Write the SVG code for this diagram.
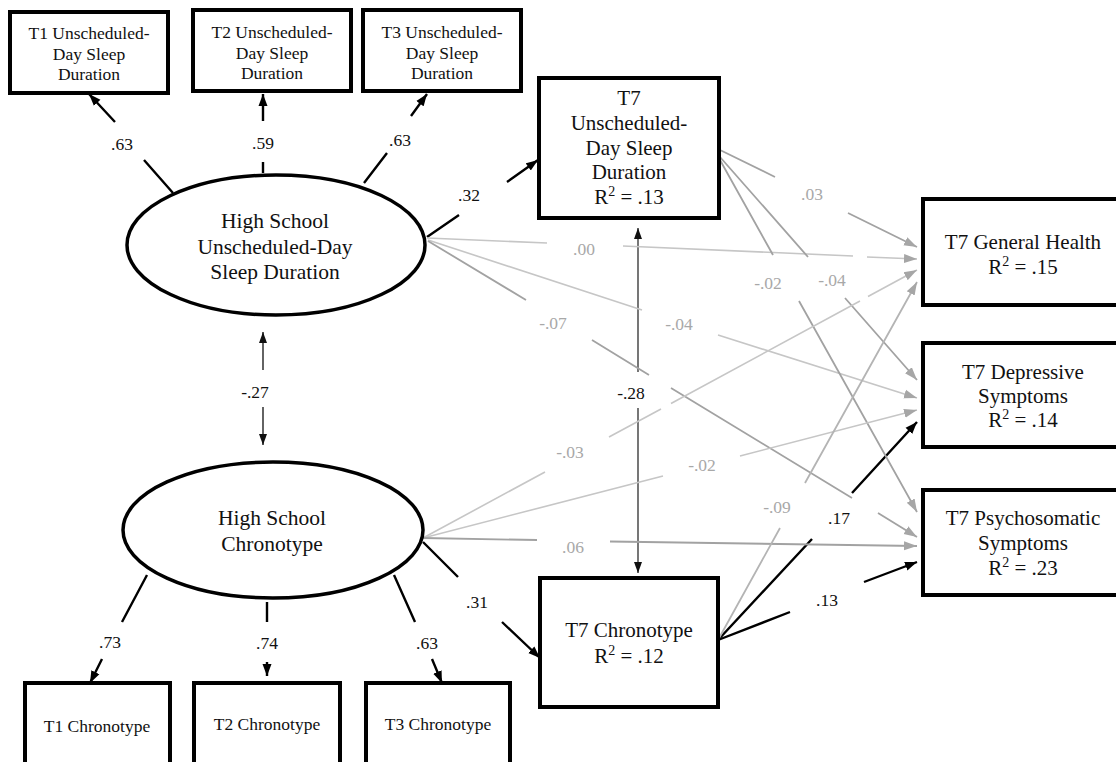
<svg xmlns="http://www.w3.org/2000/svg" width="1116" height="762" viewBox="0 0 1116 762">
<style>
  text { font-family: "Liberation Serif", "Times New Roman", serif; fill: #111; text-anchor: middle; }
  .box { fill: #fff; stroke: #000; stroke-width: 4; }
  .ell { fill: #fff; stroke: #000; stroke-width: 3.5; }
  .t17 { font-size: 17.5px; }
  .t21 { font-size: 21px; }
  .t215 { font-size: 21.5px; }
  .lab { font-size: 17.5px; }
  .glab { font-size: 17.5px; fill: #a8a8a8; }
  .blk { fill: none; stroke: #000; stroke-width: 2.4; marker-end: url(#ab); }
  .cor { fill: none; stroke: #111; stroke-width: 1.3; marker-start: url(#ac); marker-end: url(#ac); }
  .cor2 { fill: none; stroke: #555; stroke-width: 1.6; marker-start: url(#ac); marker-end: url(#ac); }
  .gl { fill: none; stroke: #c6c6c6; stroke-width: 1.6; marker-end: url(#ag); }
  .gm { fill: none; stroke: #a2a2a2; stroke-width: 1.8; marker-end: url(#ag); }
</style>
<defs>
  <marker id="ab" markerUnits="userSpaceOnUse" markerWidth="13" markerHeight="10" refX="12" refY="5" orient="auto">
    <path d="M0,0.5 L12,5 L0,9.5 z" fill="#000"/>
  </marker>
  <marker id="ac" markerUnits="userSpaceOnUse" markerWidth="12" markerHeight="10" refX="11" refY="5" orient="auto-start-reverse">
    <path d="M0,1 L11,5 L0,9 z" fill="#111"/>
  </marker>
  <marker id="ag" markerUnits="userSpaceOnUse" markerWidth="14" markerHeight="11" refX="13" refY="5.5" orient="auto">
    <path d="M0,1 L13,5.5 L0,10 z" fill="#a6a6a6"/>
  </marker>
</defs>
<rect x="0" y="0" width="1116" height="762" fill="#fff"/>

<g id="connectors">
  <path class="blk" d="M173,193 L144,160 M115,122 L89,94"/>
  <path class="blk" d="M263,173 L263,162 M263,121 L263,94"/>
  <path class="blk" d="M364,183 L387,153 M411,116 L427,94"/>
  <path class="blk" d="M427,237 L459,215 M507,182 L538,160"/>
  <path class="blk" d="M147,575 L122,622 M102,659 L90,683"/>
  <path class="blk" d="M267,602 L267,622 M267,662 L267,676"/>
  <path class="blk" d="M394,575 L415,622 M432,659 L442,683"/>
  <path class="blk" d="M423,542 L458,577 M502,622 L540,658"/>
  <path class="cor" d="M263,332 L263,370 M263,407 L263,445"/>
  <path class="cor2" d="M638,228 L638,372 M638,408 L638,573"/>
  <path class="blk" d="M718,640 L812,539 M852,493 L917,422"/>
  <path class="blk" d="M718,640 L790,612 M864,582 L917,562"/>

  <path class="gl" d="M427,238 L547,243 M623,246 L853,256 M867,257 L917,259"/>
  <path class="gl" d="M428,240 L642,310 M718,335 L917,398"/>
  <path class="gm" d="M428,241 L526,300 M592,340 L649,375 M671,388 L852,498 M878,513 L917,537"/>
  <path class="gm" d="M720,150 L775,177 M848,213 L917,247"/>
  <path class="gm" d="M720,157 L808,257 M845,298 L917,380"/>
  <path class="gm" d="M720,160 L773,255 M799,301 L917,512"/>
  <path class="gl" d="M423,538 L545,472 M609,437 L661,409 M671,403.5 L860,301 M868,296.5 L917,270"/>
  <path class="gl" d="M423,538 L663,476 M740,456 L917,410"/>
  <path class="gm" d="M423,538 L537,540 M610,541.5 L917,546"/>
  <path class="gm" style="stroke:#b4b4b4" d="M718,640 L780,528 M805,483 L917,282"/>

  <text class="lab" x="122" y="150">.63</text>
  <text class="lab" x="263" y="149">.59</text>
  <text class="lab" x="400" y="146">.63</text>
  <text class="lab" x="469" y="201">.32</text>
  <text class="lab" x="255" y="398">-.27</text>
  <text class="lab" x="110" y="648">.73</text>
  <text class="lab" x="267" y="649">.74</text>
  <text class="lab" x="427" y="649">.63</text>
  <text class="lab" x="477" y="608">.31</text>
  <text class="lab" x="631" y="399">-.28</text>
  <text class="lab" x="839" y="524">.17</text>
  <text class="lab" x="827" y="606">.13</text>
  <text class="glab" x="584" y="255">.00</text>
  <text class="glab" x="679" y="330">-.04</text>
  <text class="glab" x="553" y="329">-.07</text>
  <text class="glab" x="812" y="200">.03</text>
  <text class="glab" x="768" y="289">-.02</text>
  <text class="glab" x="832" y="286">-.04</text>
  <text class="glab" x="570" y="458">-.03</text>
  <text class="glab" x="702" y="471">-.02</text>
  <text class="glab" x="573" y="553">.06</text>
  <text class="glab" x="777" y="513">-.09</text>
</g>

<g id="t1-sleep">
  <rect class="box" x="10" y="12" width="158" height="81"/>
  <text class="t17" x="89" y="39">T1 Unscheduled-</text>
  <text class="t17" x="89" y="60">Day Sleep</text>
  <text class="t17" x="89" y="80">Duration</text>
</g>
<g id="t2-sleep">
  <rect class="box" x="193" y="10" width="158" height="81"/>
  <text class="t17" x="272" y="38">T2 Unscheduled-</text>
  <text class="t17" x="272" y="59">Day Sleep</text>
  <text class="t17" x="272" y="79">Duration</text>
</g>
<g id="t3-sleep">
  <rect class="box" x="363" y="10" width="158" height="81"/>
  <text class="t17" x="442" y="38">T3 Unscheduled-</text>
  <text class="t17" x="442" y="59">Day Sleep</text>
  <text class="t17" x="442" y="79">Duration</text>
</g>
<g id="hs-sleep">
  <ellipse class="ell" cx="276" cy="245" rx="149" ry="70"/>
  <text class="t215" x="275" y="228">High School</text>
  <text class="t215" x="275" y="254">Unscheduled-Day</text>
  <text class="t215" x="275" y="279">Sleep Duration</text>
</g>
<g id="hs-chrono">
  <ellipse class="ell" cx="273" cy="530" rx="150" ry="68"/>
  <text class="t215" x="272" y="525">High School</text>
  <text class="t215" x="272" y="551">Chronotype</text>
</g>
<g id="t7-sleep">
  <rect class="box" x="539" y="78" width="180" height="140"/>
  <text class="t21" x="629" y="105">T7</text>
  <text class="t21" x="629" y="130">Unscheduled-</text>
  <text class="t21" x="629" y="155">Day Sleep</text>
  <text class="t21" x="629" y="179">Duration</text>
  <text class="t21" x="629" y="204">R<tspan font-size="14" dy="-8">2</tspan><tspan dy="8"> = .13</tspan></text>
</g>
<g id="t7-chrono">
  <rect class="box" x="540" y="578" width="178" height="129"/>
  <text class="t21" x="629" y="637">T7 Chronotype</text>
  <text class="t21" x="629" y="663">R<tspan font-size="14" dy="-8">2</tspan><tspan dy="8"> = .12</tspan></text>
</g>
<g id="t7-health">
  <rect class="box" x="923" y="199" width="202" height="106"/>
  <text class="t21" x="1023" y="249">T7 General Health</text>
  <text class="t21" x="1023" y="274">R<tspan font-size="14" dy="-8">2</tspan><tspan dy="8"> = .15</tspan></text>
</g>
<g id="t7-depressive">
  <rect class="box" x="923" y="343" width="202" height="104"/>
  <text class="t21" x="1023" y="379">T7 Depressive</text>
  <text class="t21" x="1023" y="403">Symptoms</text>
  <text class="t21" x="1023" y="427">R<tspan font-size="14" dy="-8">2</tspan><tspan dy="8"> = .14</tspan></text>
</g>
<g id="t7-psychosomatic">
  <rect class="box" x="923" y="490" width="202" height="105"/>
  <text class="t21" x="1023" y="525">T7 Psychosomatic</text>
  <text class="t21" x="1023" y="550">Symptoms</text>
  <text class="t21" x="1023" y="575">R<tspan font-size="14" dy="-8">2</tspan><tspan dy="8"> = .23</tspan></text>
</g>
<g id="t1-chrono">
  <rect class="box" x="25" y="683" width="145" height="100"/>
  <text class="t17" x="97" y="732">T1 Chronotype</text>
</g>
<g id="t2-chrono">
  <rect class="box" x="194" y="683" width="146" height="100"/>
  <text class="t17" x="267" y="730">T2 Chronotype</text>
</g>
<g id="t3-chrono">
  <rect class="box" x="366" y="683" width="144" height="100"/>
  <text class="t17" x="438" y="730">T3 Chronotype</text>
</g>
</svg>
